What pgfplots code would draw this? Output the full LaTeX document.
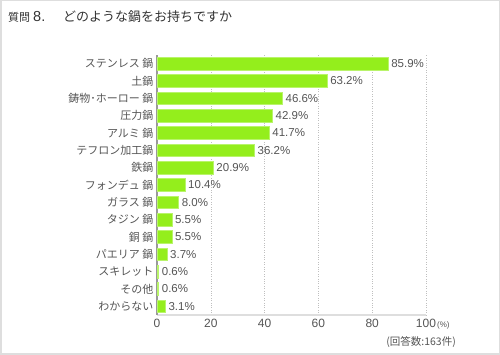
\documentclass[border=0pt]{standalone}
\usepackage{pgfplots}
\pgfplotsset{compat=1.18}
\usepackage{fontspec}
\setmainfont{Liberation Sans}
\newfontfamily\cjk{Noto Sans CJK JP}
\definecolor{bargreen}{RGB}{148,238,28}
\definecolor{txt}{RGB}{85,85,85}
\definecolor{ttl}{RGB}{51,51,51}
\newcommand{\gp}{\hspace{2.5pt}}
\begin{document}
\begin{tikzpicture}[x=1pt,y=1pt]
\useasboundingbox (0,0) rectangle (500,355);
\draw[black!13, line width=1.5pt] (0.75,0.75) rectangle (499.25,354.25);
\node[anchor=base west, inner sep=0, text=ttl] at (8,333)
  {{\cjk\fontsize{11}{13}\selectfont 質問}\hspace{3pt}{\fontsize{14.5}{16}\selectfont 8.}};
\node[anchor=base west, inner sep=0, text=ttl, font=\cjk\fontsize{13}{15}\selectfont] at (63,333)
  {どのような鍋をお持ちですか};
\begin{axis}[
  at={(157pt,40pt)}, anchor=south west,
  scale only axis, width=269pt, height=260pt,
  xbar, bar width=12.5pt,
  xmin=0, xmax=100, ymin=-0.5, ymax=14.5,
  clip=false,
  separate axis lines,
  axis x line*=bottom, axis y line*=left,
  x axis line style={draw=black!13, line width=1.5pt, -},
  y axis line style={draw=black!40, line width=2pt, -},
  xtick={0,20,40,60,80,100},
  ytick={0,...,14},
  yticklabels={わからない,その他,スキレット,パエリア\gp 鍋,銅\gp 鍋,タジン\gp 鍋,ガラス\gp 鍋,フォンデュ\gp 鍋,鉄鍋,テフロン加工鍋,アルミ\gp 鍋,圧力鍋,鋳物･ホーロー\gp 鍋,土鍋,ステンレス\gp 鍋},
  major tick length=0pt,
  xmajorgrids, grid style={dotted, black!25, line width=0.5pt},
  /pgf/number format/assume math mode=true,
  xticklabel style={font=\fontsize{12}{14}\selectfont, text=txt, yshift=-1pt},
  yticklabel style={font=\cjk\fontsize{11}{13}\selectfont, text=txt},
  nodes near coords={\pgfmathprintnumber[fixed,fixed zerofill,precision=1]{\pgfplotspointmeta}\%},
  point meta=x,
  every node near coord/.append style={font=\fontsize{11.5}{13}\selectfont, text=txt, inner sep=0pt, xshift=3pt, /pgf/number format/assume math mode=true},
]
\addplot[fill=bargreen, draw=bargreen!65!white, line width=0.5pt] coordinates {
(85.9,14) (63.2,13) (46.6,12) (42.9,11) (41.7,10) (36.2,9) (20.9,8) (10.4,7)
(8.0,6) (5.5,5) (5.5,4) (3.7,3) (0.6,2) (0.6,1) (3.1,0)
};
\end{axis}
\node[anchor=west, inner sep=0, text=txt, font=\fontsize{8}{9}\selectfont] at (437,29.5) {(\%)};
\node[anchor=east, inner sep=0, text=txt, font=\cjk\fontsize{10.5}{12}\selectfont] at (456,13) {(回答数:163件)};
\end{tikzpicture}
\end{document}
